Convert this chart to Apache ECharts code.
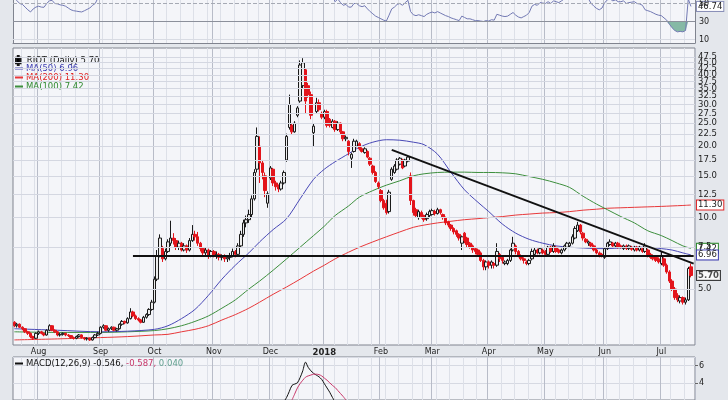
<!DOCTYPE html>
<html><head><meta charset="utf-8">
<script src="https://cdn.jsdelivr.net/npm/echarts@6/dist/echarts.min.js"></script>
<style>html,body{margin:0;padding:0;background:#e4e7ec}#c{width:728px;height:400px}</style>
</head><body><div id="c"></div>
<script>
// ---------- categories ----------
const firstDay = '2017-07-19', lastDay = '2018-07-18';
const holidays = ['2017-09-04','2017-11-23','2017-12-25','2018-01-01','2018-01-15','2018-02-19','2018-03-30','2018-05-28','2018-07-04'];
const monthNames = ['Jan','Feb','Mar','Apr','May','Jun','Jul','Aug','Sep','Oct','Nov','Dec'];

// ---------- daily candles [open, close, low, high] ----------
const jul17 = [[3.62,3.50,3.45,3.66],[3.50,3.55,3.44,3.60],[3.55,3.45,3.42,3.58],[3.45,3.40,3.35,3.48],[3.40,3.30,3.26,3.42],[3.30,3.25,3.20,3.33],[3.25,3.15,3.10,3.28],[3.15,3.10,3.05,3.18],[3.10,3.25,3.08,3.28]];
const aug17 = [[3.25,3.30,3.20,3.34],[3.30,3.25,3.22,3.33],[3.25,3.20,3.16,3.28],[3.20,3.35,3.18,3.38],[3.35,3.50,3.32,3.55],[3.50,3.35,3.32,3.52],[3.35,3.30,3.26,3.38],[3.30,3.20,3.16,3.32],[3.20,3.22,3.15,3.26],[3.22,3.25,3.18,3.28],[3.25,3.20,3.16,3.27],[3.20,3.18,3.14,3.23],[3.18,3.12,3.08,3.20],[3.12,3.10,3.06,3.15],[3.10,3.15,3.07,3.18],[3.15,3.20,3.12,3.23],[3.20,3.12,3.09,3.22],[3.12,3.08,3.04,3.14],[3.08,3.10,3.03,3.13],[3.10,3.05,3.02,3.12],[3.05,3.12,3.03,3.15],[3.12,3.20,3.10,3.23],[3.20,3.25,3.17,3.30]];
const sep17 = [[3.25,3.45,3.22,3.48],[3.45,3.50,3.40,3.55],[3.50,3.35,3.32,3.52],[3.35,3.40,3.30,3.44],[3.40,3.45,3.36,3.48],[3.45,3.35,3.32,3.47],[3.35,3.40,3.31,3.43],[3.40,3.55,3.38,3.58],[3.55,3.65,3.50,3.70],[3.65,3.60,3.55,3.68],[3.60,3.75,3.57,3.80],[3.75,4.00,3.72,4.15],[4.00,3.85,3.80,4.05],[3.85,3.75,3.70,3.90],[3.75,3.70,3.65,3.80],[3.70,3.62,3.58,3.74],[3.62,3.80,3.60,3.85],[3.80,3.90,3.75,3.95],[3.90,4.10,3.85,4.15],[4.10,4.40,4.05,4.50]];
const oct17 = [[4.40,5.50,4.35,5.65],[5.50,6.90,5.40,7.30],[6.90,8.20,6.80,8.50],[7.40,6.70,6.50,7.60],[6.70,7.20,6.60,7.40],[7.20,7.90,7.10,8.10],[7.80,8.20,7.60,9.70],[8.20,8.00,7.70,8.60],[8.00,7.50,7.30,8.20],[7.50,7.80,7.30,8.00],[7.80,7.30,7.20,7.90],[7.30,7.60,7.20,7.80],[7.60,7.30,7.10,7.70],[7.30,8.00,7.20,8.20],[8.00,8.50,7.90,9.30],[8.50,8.30,8.00,8.80],[8.30,7.80,7.60,8.70],[7.80,7.40,7.20,7.90],[7.40,7.10,6.90,7.50],[7.10,7.30,6.90,7.50],[7.30,6.90,6.70,7.40],[6.90,7.20,6.80,7.30]];
const nov17 = [[7.20,6.90,6.80,7.30],[6.90,7.00,6.70,7.20],[7.00,6.80,6.60,7.10],[6.80,6.90,6.60,7.00],[6.90,6.70,6.50,7.00],[6.70,6.80,6.50,6.90],[6.80,6.90,6.60,7.10],[6.90,7.20,6.80,7.40],[7.20,7.00,6.80,7.30],[7.00,7.60,6.90,7.80],[7.60,8.50,7.50,8.80],[8.50,9.50,8.30,9.80],[9.50,9.80,9.10,10.20],[9.80,10.30,9.50,10.80],[10.30,12.00,10.00,12.40],[12.00,15.50,11.80,16.00],[16.00,22.00,15.50,24.00],[20.00,17.00,14.00,22.00],[17.00,15.50,14.50,17.50],[15.00,13.00,12.20,15.50],[11.50,12.60,11.00,12.90]];
const dec17 = [[14.70,16.20,14.40,16.50],[16.00,14.00,13.60,16.20],[14.00,13.50,13.00,14.30],[13.50,13.20,12.80,13.80],[13.20,14.00,13.00,14.30],[14.00,15.50,13.80,15.80],[17.50,22.00,17.20,22.60],[24.00,30.00,23.50,33.00],[24.50,23.00,22.50,25.00],[23.00,25.00,22.80,25.50],[27.00,29.00,26.50,29.50],[31.00,44.00,30.50,46.00],[36.00,45.00,35.00,47.00],[42.00,31.00,27.50,42.50],[36.00,33.00,32.00,37.00],[33.00,27.00,26.00,34.00],[22.80,24.30,20.00,25.00],[28.00,30.50,27.50,32.00],[30.50,28.50,28.00,31.50],[27.50,26.50,26.00,28.00]];
const jan18 = [[26.50,28.00,26.00,28.50],[28.00,24.50,24.00,28.50],[26.00,24.50,24.00,26.30],[24.00,25.50,23.80,26.00],[25.50,23.50,23.00,25.80],[23.50,25.00,23.20,25.50],[25.00,23.00,22.50,25.20],[23.00,21.50,21.00,23.20],[21.50,21.80,21.00,22.20],[21.00,19.00,18.30,21.20],[17.80,18.50,16.20,18.80],[19.00,21.00,18.80,21.50],[20.00,21.00,19.80,21.30],[20.50,19.50,19.20,20.80],[19.50,19.00,18.80,19.80],[18.80,19.50,18.60,19.80],[19.00,18.00,17.80,19.20],[17.80,16.80,16.50,18.00],[16.50,15.50,15.20,16.70],[15.50,14.20,14.00,15.70],[14.00,13.50,13.20,14.20]];
const feb18 = [[13.00,11.80,11.60,13.20],[11.80,11.00,10.80,12.00],[11.50,10.50,10.30,11.90],[10.60,12.80,10.40,13.10],[14.50,16.00,14.30,16.30],[15.50,16.50,15.30,16.80],[16.00,17.50,15.80,17.80],[16.80,17.80,16.60,18.00],[17.50,16.20,16.00,17.70],[16.50,17.50,16.30,17.70],[17.30,18.00,17.10,18.30],[15.00,11.80,11.30,15.50],[11.80,10.50,10.20,11.90],[10.80,10.20,10.00,11.00],[10.00,10.60,9.80,10.80],[10.50,10.10,9.90,10.70],[10.20,9.80,9.60,10.30],[9.90,10.30,9.70,10.50],[10.20,10.60,10.00,10.80]];
const mar18 = [[10.30,10.70,10.20,10.90],[10.60,10.40,10.20,10.80],[10.40,10.80,10.30,11.00],[10.80,10.50,10.30,10.90],[10.30,10.00,9.80,10.40],[10.00,9.50,9.30,10.10],[9.60,9.30,9.10,9.70],[9.30,9.00,8.80,9.40],[9.00,8.70,8.50,9.10],[8.80,8.50,8.30,8.90],[8.50,8.20,8.00,8.60],[7.80,8.30,7.30,8.40],[8.60,8.00,7.80,8.70],[8.20,7.70,7.50,8.30],[7.80,7.50,7.40,7.90],[7.60,7.30,7.10,7.70],[7.40,7.20,7.00,7.50],[7.30,7.00,6.90,7.40],[7.10,6.60,6.50,7.20],[6.60,6.20,6.00,6.70],[6.20,6.50,6.00,6.60]];
const apr18 = [[6.50,6.30,6.10,6.60],[6.30,6.50,6.10,6.60],[6.40,6.30,6.10,6.50],[6.30,7.20,6.20,7.80],[7.00,6.70,6.50,7.10],[6.80,6.60,6.40,6.90],[6.40,6.50,6.30,6.60],[6.40,6.60,6.30,6.70],[6.60,7.30,6.50,7.40],[7.30,7.80,7.20,8.30],[7.60,7.20,7.00,7.70],[7.20,6.90,6.80,7.30],[6.90,6.70,6.60,7.00],[6.70,6.60,6.40,6.80],[6.50,6.40,6.30,6.60],[6.40,6.60,6.30,6.70],[6.70,7.20,6.60,7.40],[7.00,7.30,6.90,7.50],[7.30,7.10,7.00,7.40],[7.10,7.40,7.00,7.50],[7.30,7.10,7.00,7.40]];
const may18 = [[7.20,7.00,6.90,7.30],[7.00,7.50,6.90,7.60],[7.50,7.20,7.10,7.60],[7.20,7.60,7.10,7.80],[7.50,7.20,7.10,7.60],[7.30,7.15,7.05,7.40],[7.10,7.30,7.00,7.40],[7.30,7.60,7.20,7.70],[7.50,7.80,7.40,7.90],[7.60,7.80,7.50,7.90],[7.80,8.30,7.70,8.50],[8.20,9.00,8.10,9.20],[8.80,9.30,8.70,9.60],[9.30,8.70,8.50,9.40],[8.60,8.20,8.00,8.70],[8.10,7.90,7.80,8.20],[7.80,7.90,7.60,8.00],[7.80,7.60,7.50,7.90],[7.60,7.30,7.20,7.70],[7.30,7.10,7.00,7.40],[7.10,6.90,6.80,7.20],[7.00,6.90,6.80,7.10]];
const jun18 = [[6.80,7.40,6.70,7.50],[7.40,7.80,7.30,7.90],[7.70,7.90,7.60,8.10],[7.80,7.60,7.50,7.90],[7.60,7.80,7.50,7.90],[7.80,7.50,7.40,7.90],[7.60,7.50,7.40,7.70],[7.40,7.60,7.30,7.70],[7.60,7.40,7.30,7.70],[7.40,7.60,7.30,7.70],[7.50,7.35,7.25,7.60],[7.30,7.50,7.20,7.60],[7.50,7.30,7.20,7.60],[7.30,7.50,7.20,7.60],[7.40,7.20,7.10,7.50],[7.20,7.60,7.10,7.80],[7.30,6.90,6.80,7.40],[7.00,6.80,6.70,7.10],[6.90,6.70,6.60,7.00],[6.80,6.60,6.50,6.90],[6.70,6.50,6.40,6.80]];
const jul18 = [[6.40,6.90,6.30,7.20],[6.70,6.30,6.20,6.80],[6.30,5.90,5.80,6.40],[5.90,5.40,5.30,6.00],[5.40,5.00,4.90,5.50],[5.00,4.60,4.50,5.10],[4.70,4.50,4.40,4.80],[4.45,4.60,4.35,4.70],[4.60,4.40,4.30,4.65],[4.40,4.50,4.30,4.60],[4.50,6.10,4.45,6.20],[6.20,5.70,5.60,6.40]];

// ---------- moving averages (read at sample dates) ----------
const ma50 = [['2017-07-19',3.40],['2017-08-10',3.35],['2017-09-01',3.30],['2017-09-18',3.32],['2017-10-02',3.38],['2017-10-09',3.5],['2017-10-16',3.75],['2017-10-23',4.1],['2017-10-30',4.7],['2017-11-06',5.5],['2017-11-13',6.3],['2017-11-20',7.1],['2017-11-27',7.9],['2017-12-04',8.9],['2017-12-11',9.9],['2017-12-18',12.0],['2017-12-26',14.5],['2018-01-02',16.0],['2018-01-08',17.2],['2018-01-16',18.6],['2018-01-22',19.8],['2018-01-29',20.8],['2018-02-05',21.3],['2018-02-12',21.2],['2018-02-20',20.8],['2018-02-26',20.3],['2018-03-05',18.5],['2018-03-12',15.5],['2018-03-19',13.1],['2018-03-26',11.6],['2018-04-02',10.6],['2018-04-09',9.4],['2018-04-16',8.6],['2018-04-23',8.1],['2018-04-30',7.8],['2018-05-07',7.6],['2018-05-14',7.5],['2018-05-21',7.45],['2018-05-29',7.4],['2018-06-04',7.4],['2018-06-11',7.45],['2018-06-18',7.5],['2018-06-25',7.5],['2018-07-02',7.4],['2018-07-09',7.3],['2018-07-13',7.1],['2018-07-18',6.96]];
const ma100 = [['2017-07-19',3.30],['2017-08-10',3.28],['2017-09-01',3.28],['2017-09-18',3.30],['2017-10-02',3.34],['2017-10-09',3.4],['2017-10-16',3.5],['2017-10-23',3.65],['2017-10-30',3.85],['2017-11-06',4.15],['2017-11-13',4.5],['2017-11-20',5.0],['2017-11-27',5.4],['2017-12-04',6.0],['2017-12-11',6.7],['2017-12-18',7.5],['2017-12-26',8.4],['2018-01-02',9.2],['2018-01-08',10.2],['2018-01-16',11.2],['2018-01-22',12.2],['2018-01-29',13.0],['2018-02-05',13.7],['2018-02-12',14.3],['2018-02-20',15.0],['2018-02-26',15.3],['2018-03-05',15.5],['2018-03-12',15.55],['2018-03-19',15.55],['2018-03-26',15.5],['2018-04-02',15.5],['2018-04-09',15.45],['2018-04-16',15.3],['2018-04-23',14.9],['2018-04-30',14.5],['2018-05-07',14.0],['2018-05-14',13.4],['2018-05-21',12.3],['2018-05-29',11.4],['2018-06-04',10.8],['2018-06-11',10.1],['2018-06-18',9.5],['2018-06-25',8.8],['2018-07-02',8.4],['2018-07-09',8.0],['2018-07-13',7.6],['2018-07-18',7.42]];
const ma200 = [['2017-07-19',3.05],['2017-08-10',3.08],['2017-09-01',3.12],['2017-09-18',3.15],['2017-10-02',3.2],['2017-10-09',3.22],['2017-10-16',3.3],['2017-10-23',3.38],['2017-10-30',3.5],['2017-11-06',3.7],['2017-11-13',3.9],['2017-11-20',4.15],['2017-11-27',4.4],['2017-12-04',4.75],['2017-12-11',5.1],['2017-12-18',5.5],['2017-12-26',5.95],['2018-01-02',6.3],['2018-01-08',6.7],['2018-01-16',7.15],['2018-01-22',7.5],['2018-01-29',7.9],['2018-02-05',8.3],['2018-02-12',8.7],['2018-02-20',9.1],['2018-02-26',9.3],['2018-03-05',9.5],['2018-03-12',9.65],['2018-03-19',9.8],['2018-03-26',9.9],['2018-04-02',10.0],['2018-04-09',10.1],['2018-04-16',10.25],['2018-04-23',10.35],['2018-04-30',10.45],['2018-05-07',10.5],['2018-05-14',10.6],['2018-05-21',10.75],['2018-05-29',10.85],['2018-06-04',10.95],['2018-06-11',11.0],['2018-06-18',11.05],['2018-06-25',11.1],['2018-07-02',11.15],['2018-07-09',11.2],['2018-07-13',11.25],['2018-07-18',11.30]];

// ---------- RSI(14) daily ----------
const rsi = [56,53,50,49,46,43,40.6,44,46,
 47,46,45.8,50,53,53.5,50,49.6,48.5,48,47,45,43,42,41.5,41,40.6,42,43.5,45,48,50,56,
 60,62,56,57,58,55,57,60,63,62,65,70,63,60,58,56.5,60,63,66,70,
 78,84,87,76,77,79,80,78,72,73,68,69,66,70,73,71,66,62,57,58,54.5,56,
 54,57,56,57,55,56,57,59,55,59,66,72,73,75,80,86,89,80,74,68,63,
 67,63,61,60,62,66,73,79,71,73,76,84,86,78,74,66,62,68,65,62,
 63,57,56.5,58,52,55,51,48,49,46,46,50,50,47.5,46.5,47.5,44,41,38.5,36,34.5,
 33,31.5,30.5,37,44,46,49,50,48,51,53.6,41,37.5,36.5,37.5,36.5,35.5,38,39.5,
 40.5,39.5,41,39.5,38,36.5,35.5,34,33,32,31,36,34.5,33,33,32,31,31,30.5,30,31,
 30.5,32,31.5,38,37,36,35.5,36,38,40,37,35,34,35.5,37,40,47,49,48,51,50.5,
 50,52,50,53,52,51,53,55,56,57,61,66,68,62,58,55,55,50,47,44.5,43,45,
 51,54,55,53,54,52,52,53,50,51,51.5,52,50,49.5,48,43,42,41,39.5,38,37,
 36.5,34,31.5,27,23,20,18.5,19,18.5,20,55,46.74];

// ---------- MACD(12,26,9) visible part ----------
const macdLine = [['2017-12-08',1.8],['2017-12-11',2.3],['2017-12-12',3.0],['2017-12-13',3.7],['2017-12-14',3.85],['2017-12-15',4.0],['2017-12-18',4.6],['2017-12-19',5.4],['2017-12-20',6.4],['2017-12-21',5.8],['2017-12-22',5.4],['2017-12-26',5.1],['2017-12-27',4.9],['2017-12-28',4.7],['2017-12-29',4.4],['2018-01-02',3.9],['2018-01-03',3.4],['2018-01-04',2.9],['2018-01-05',2.3],['2018-01-08',1.8]];
const macdSignal = [['2017-12-13',2.0],['2017-12-14',2.7],['2017-12-15',3.4],['2017-12-18',3.9],['2017-12-19',4.3],['2017-12-20',4.65],['2017-12-21',4.8],['2017-12-22',4.9],['2017-12-26',5.0],['2017-12-27',5.0],['2017-12-28',4.95],['2017-12-29',4.8],['2018-01-02',4.55],['2018-01-03',4.3],['2018-01-04',4.0],['2018-01-05',3.7],['2018-01-08',3.45],['2018-01-09',3.1],['2018-01-10',2.75],['2018-01-11',2.4],['2018-01-12',2.0]];
const macdValues = [-0.546, -0.587, 0.040];

// ---------- axis ticks / trend lines ----------
const priceTicks = [5,7.5,10,12.5,15,17.5,20,22.5,25,27.5,30,32.5,35,37.5,40,42.5,45,47.5];
const rsiTicks = [10,30,50];
const supportLine = {from:['2017-09-20',6.88], to:[252,6.88]};
const resistLine = {from:['2018-02-07',19.3], to:[252,6.4]};

// ---------- build ----------
function tradingDays(){
  const out=[]; let t=Date.parse(firstDay+'T00:00:00Z'); const end=Date.parse(lastDay+'T00:00:00Z');
  while(t<=end){const d=new Date(t);const wd=d.getUTCDay();const s=d.toISOString().slice(0,10);
    if(wd!==0&&wd!==6&&holidays.indexOf(s)<0) out.push(s); t+=86400000;}
  return out;
}
const dates = tradingDays();
const cats = dates.concat(['']);
const candles = [].concat(jul17,aug17,sep17,oct17,nov17,dec17,jan18,feb18,mar18,apr18,may18,jun18,jul18);
const lastClose = candles[candles.length-1][1];
const rsiData = dates.map((d,i)=>[d,rsi[i]]);
const rsiBase = dates.map((d,i)=>{const low = rsi[i]<30||rsi[i-1]<30||rsi[i+1]<30; return [d, low?Math.min(rsi[i],30):null];});
const rsiFill = dates.map((d,i)=>{const b=rsiBase[i][1]; return [d, b==null?null:30-b];});

function monthStart(i){ if(i<=0||i>=dates.length) return false; return dates[i].slice(5,7)!==dates[i-1].slice(5,7); }
function weekStart(i){ if(i<=0||i>=dates.length) return false; return new Date(dates[i]+'T00:00:00Z').getUTCDay() <= new Date(dates[i-1]+'T00:00:00Z').getUTCDay(); }

const FONT = 'DejaVu Sans';
const BORDER = '#80848f';
const gridCommon = {left:13, right:33, show:true, backgroundColor:'#f4f5f9', borderColor:BORDER, borderWidth:1};
function xAx(grid, kind, labels, line){
  return {type:'category', gridIndex:grid, position:'bottom', data:cats, boundaryGap:true,
    axisLine:{show:!!line, onZero:false, lineStyle:{color:BORDER}}, axisTick:{show:false},
    axisLabel: labels ? {show:true, interval:(i)=>monthStart(i), margin:3, fontSize:8, fontFamily:FONT, color:'#222',
        formatter:(v)=>{const m=+v.slice(5,7); return m===1?'{y|'+v.slice(0,4)+'}':monthNames[m-1];},
        rich:{y:{fontWeight:'bold', fontSize:8.5, fontFamily:FONT, color:'#222'}}} : {show:false},
    splitLine:{show:true, interval:(i)=> kind==='m'?monthStart(i):weekStart(i),
      lineStyle:{color: kind==='m'?'#b8bcc8':'#dde0e8', width:1}}};
}
const boxLabel = (color)=>({show:true, distance:6, fontSize:8.5, fontFamily:FONT, color:'#222',
  backgroundColor:'#fff', borderColor:color, borderWidth:1, padding:[0,1,0,1]});
const hiddenY = (grid, pos, min, max, line)=>({type:'value', gridIndex:grid, position:pos, min:min, max:max,
  axisLabel:{show:false}, axisLine:{show:!!line, lineStyle:{color:BORDER}}, axisTick:{show:false}, splitLine:{show:false}});

const option = {
  animation:false,
  backgroundColor:'#e4e7ec',
  textStyle:{fontFamily:FONT},
  grid:[
    {left:13, right:33, top:0, height:43, show:true, backgroundColor:'#f4f5f9', borderWidth:0},
    Object.assign({top:48, height:297}, gridCommon),
    Object.assign({top:357, height:49.1}, gridCommon)
  ],
  xAxis:[xAx(0,'w'), xAx(0,'m',false,true), xAx(1,'w'), xAx(1,'m',true), xAx(2,'w'), xAx(2,'m')],
  yAxis:[
    hiddenY(0,'right',6.1,53.9,true),
    {type:'log', logBase:10, gridIndex:1, min:2.903, max:51.9, axisLabel:{show:false}, axisLine:{show:false}, axisTick:{show:false}, splitLine:{show:false}},
    {type:'value', gridIndex:2, min:2, max:7, interval:2, position:'right',
      axisLabel:{fontSize:8, fontFamily:FONT, color:'#222', margin:4, showMaxLabel:false, showMinLabel:false},
      axisLine:{show:false}, axisTick:{show:true, length:3, lineStyle:{color:'#666'}}, splitLine:{lineStyle:{color:'#d6d9e2'}}},
    hiddenY(0,'left',6.1,53.9,true)
  ],
  legend:[
    {data:[{name:'RIOT (Daily)', icon:'path://M3,0H4V2H6V8H4V10H3V8H1V2H3Z', itemStyle:{color:'#000'}}],
     left:15, top:55, itemWidth:7, itemHeight:9, itemGap:0, selectedMode:false, padding:0,
     textStyle:{fontSize:8.5, fontFamily:FONT, color:'#111'}, formatter:(n)=>n+' '+lastClose.toFixed(2)},
    {data:[{name:'MA(50)', textStyle:{color:'#3c3cb0'}},{name:'MA(200)', textStyle:{color:'#e02424'}},{name:'MA(100)', textStyle:{color:'#2f8a2f'}}],
     orient:'vertical', left:15, top:64, icon:'rect', itemWidth:8, itemHeight:2, itemGap:0, selectedMode:false, padding:0,
     textStyle:{fontSize:8.5, fontFamily:FONT, padding:[0,0,0,-2]},
     formatter:(n)=>{const src={ 'MA(50)':ma50,'MA(200)':ma200,'MA(100)':ma100}[n]; return n+' '+src[src.length-1][1].toFixed(2);}},
    {data:[{name:'MACD(12,26,9)'}], left:15, top:359, icon:'rect', itemWidth:8, itemHeight:2, selectedMode:false, padding:0,
     textStyle:{fontSize:8.5, fontFamily:FONT, padding:[0,0,0,-2], rich:{a:{color:'#111',fontSize:8.5,fontFamily:FONT},b:{color:'#c8386a',fontSize:8.5,fontFamily:FONT},c:{color:'#5f9e8e',fontSize:8.5,fontFamily:FONT}}},
     formatter:(n)=>'{a|'+n+' '+macdValues[0].toFixed(3)+',} {b|'+macdValues[1].toFixed(3)+',} {c|'+macdValues[2].toFixed(3)+'}'}
  ],
  series:[
    // RSI panel reference lines with labels
    {type:'line', xAxisIndex:1, yAxisIndex:0, data:[], silent:true, z:1,
     markLine:{silent:true, symbol:['none','none'],
       label:{show:true, position:'end', distance:4, fontSize:8, fontFamily:FONT, color:'#222', formatter:(p)=>String(p.value)},
       data: rsiTicks.map(v=>({yAxis:v, lineStyle:{color: v===30?'#8c909b':(v===50?'#a6aab4':'#d8dbe3'), width:1, type: v===50?'dashed':'solid'}}))}},
    {type:'line', xAxisIndex:1, yAxisIndex:0, data:rsiBase, stack:'rsiFill', showSymbol:false, lineStyle:{opacity:0}, silent:true, z:2},
    {type:'line', xAxisIndex:1, yAxisIndex:0, data:rsiFill, stack:'rsiFill', showSymbol:false, lineStyle:{opacity:0}, areaStyle:{color:'#7fb5a0', opacity:0.95}, silent:true, z:2},
    {name:'RSI(14)', type:'line', xAxisIndex:1, yAxisIndex:0, data:rsiData, showSymbol:false, lineStyle:{color:'#7279b3', width:1}, itemStyle:{color:'#7279b3'}, z:3,
     endLabel:Object.assign(boxLabel('#8a90b8'), {formatter:(p)=>p.value[1].toFixed(2)})},
    // main panel price grid lines with labels
    {type:'line', xAxisIndex:3, yAxisIndex:1, data:[], silent:true, z:1,
     markLine:{silent:true, symbol:['none','none'],
       label:{show:true, position:'end', distance:3, fontSize:8.5, fontFamily:FONT, color:'#222', formatter:(p)=>p.value.toFixed(1)},
       lineStyle:{color:'#d4d7e1', width:1, type:'solid'},
       data: priceTicks.map(v=>({yAxis:v}))}},
    {name:'MA(200)', type:'line', xAxisIndex:3, yAxisIndex:1, data:ma200, showSymbol:false, smooth:0.3, lineStyle:{color:'#e8383a', width:1}, itemStyle:{color:'#e8383a'}, z:3,
     endLabel:Object.assign(boxLabel('#e02424'), {formatter:(p)=>p.value[1].toFixed(2)})},
    {name:'MA(100)', type:'line', xAxisIndex:3, yAxisIndex:1, data:ma100, showSymbol:false, smooth:0.3, lineStyle:{color:'#3d8f3d', width:1}, itemStyle:{color:'#3d8f3d'}, z:3,
     endLabel:Object.assign(boxLabel('#2f8a2f'), {formatter:(p)=>p.value[1].toFixed(2)})},
    {name:'MA(50)', type:'line', xAxisIndex:3, yAxisIndex:1, data:ma50, showSymbol:false, smooth:0.3, lineStyle:{color:'#4848b6', width:1}, itemStyle:{color:'#4848b6'}, z:3,
     endLabel:Object.assign(boxLabel('#3c3cb0'), {formatter:(p)=>p.value[1].toFixed(2)})},
    {name:'RIOT (Daily)', type:'candlestick', xAxisIndex:3, yAxisIndex:1, data:candles, barWidth:3, z:4,
     itemStyle:{color:'#ededed', color0:'#e3141b', borderColor:'#1a1a1a', borderColor0:'#e3141b', borderWidth:1},
     markLine:{silent:true, symbol:['none','none'], label:{show:false}, lineStyle:{color:'#111', width:2, type:'solid'},
       data:[[{coord:supportLine.from},{coord:supportLine.to}],[{coord:resistLine.from},{coord:resistLine.to}]]}},
    {type:'scatter', xAxisIndex:3, yAxisIndex:1, data:[[dates[dates.length-1], lastClose]], symbolSize:0.1, silent:true, z:6,
     label:Object.assign(boxLabel('#111'), {position:'right', distance:6, fontWeight:'bold', formatter:()=>lastClose.toFixed(2)})},
    // MACD
    {name:'MACD(12,26,9)', type:'line', xAxisIndex:5, yAxisIndex:2, data:macdLine, showSymbol:false, smooth:0.3, lineStyle:{color:'#111', width:1}, itemStyle:{color:'#111'}, z:3},
    {name:'Signal', type:'line', xAxisIndex:5, yAxisIndex:2, data:macdSignal, showSymbol:false, smooth:0.3, lineStyle:{color:'#c8386a', width:1}, itemStyle:{color:'#c8386a'}, z:3}
  ]
};
const chart = echarts.init(document.getElementById('c'), null, {renderer:'canvas'});
chart.setOption(option);
</script>
</body></html>
